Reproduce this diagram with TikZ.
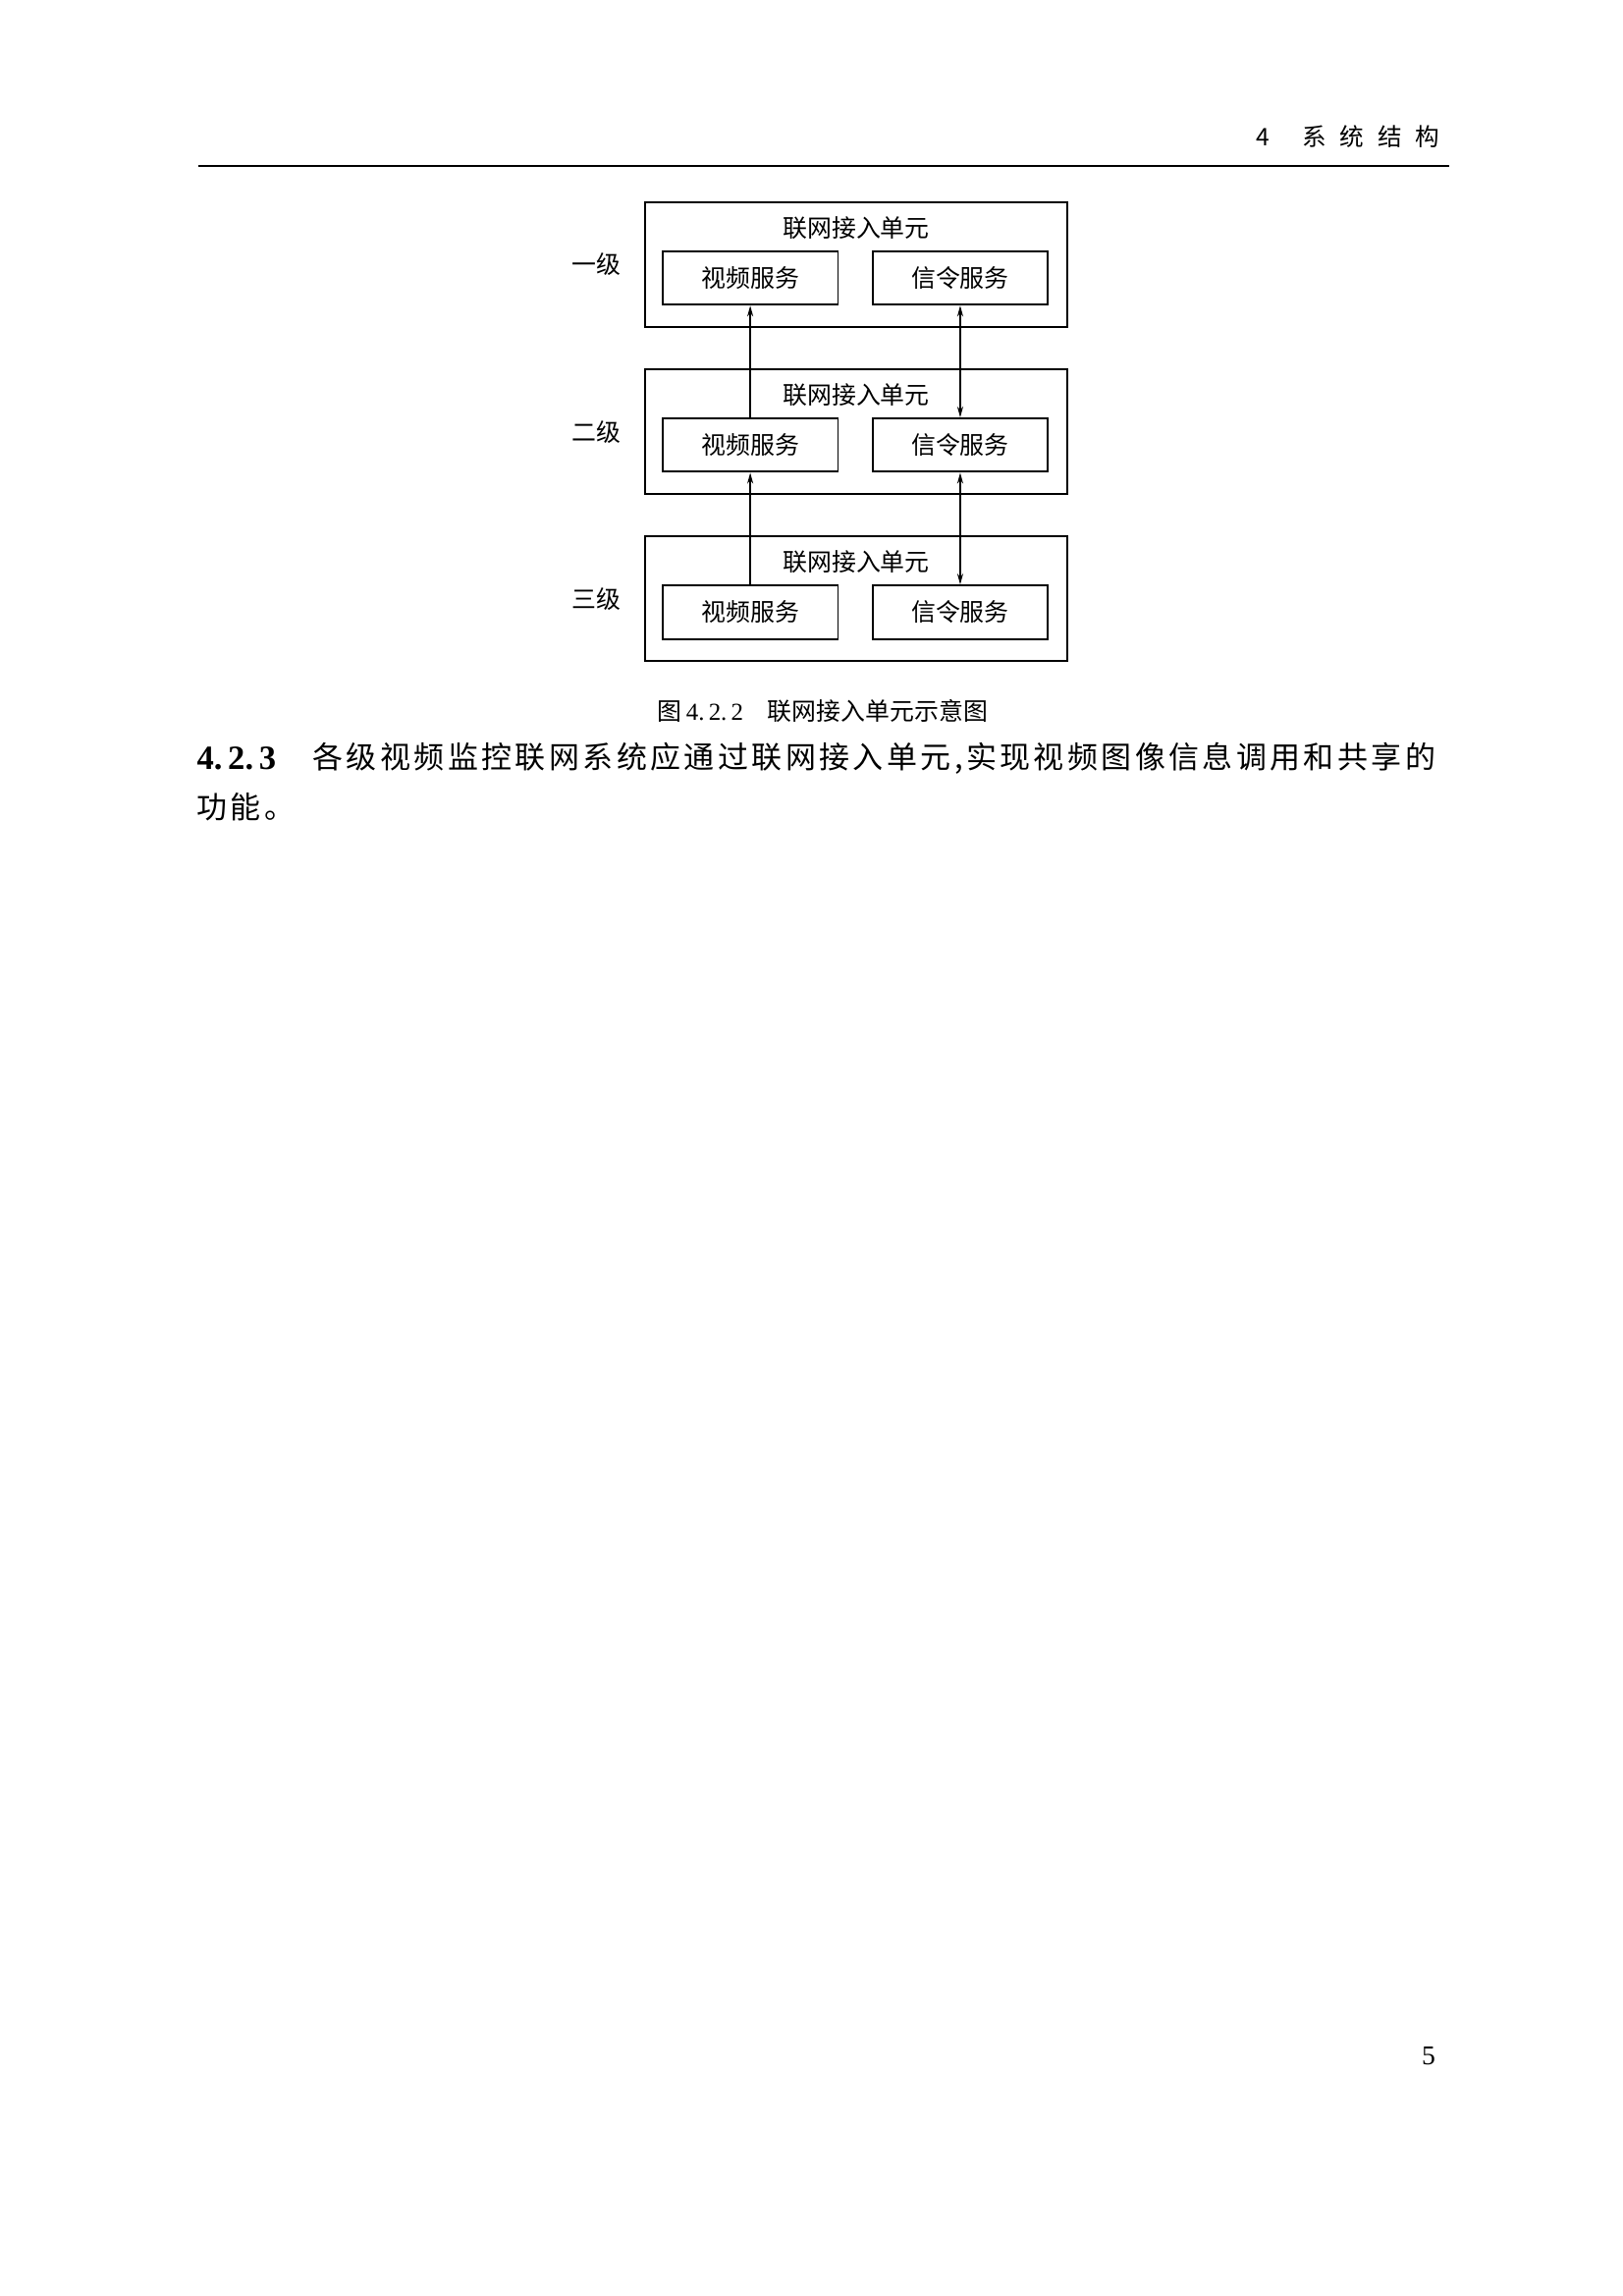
\documentclass[tikz,border=0pt]{standalone}
\usepackage{fontspec}
\setmainfont{Liberation Serif}
\newfontfamily\cjk{Noto Sans CJK SC}
\newfontfamily\cjkbody[LetterSpace=11]{Noto Sans CJK SC}
\usepackage{tikz}
\usetikzlibrary{arrows.meta, positioning}

\begin{document}
\begin{tikzpicture}[
    x=0.36146pt, y=-0.36146pt,
    unit/.style={draw, line width=0.7pt, inner sep=0pt, minimum width=155.3pt, minimum height=45.9pt},
    service/.style={draw, line width=0.7pt, inner sep=0pt, minimum width=64.6pt, minimum height=19.7pt, font=\cjk\fontsize{9}{11}\selectfont},
    title/.style={inner sep=0pt, font=\cjk\fontsize{9}{11}\selectfont},
    level/.style={inner sep=0pt, font=\cjk\fontsize{9}{11}\selectfont},
    arrow/.style={-{Stealth[length=4pt, width=2.2pt]}, line width=0.5pt},
    biarrow/.style={{Stealth[length=4pt, width=2.2pt]}-{Stealth[length=4pt, width=2.2pt]}, line width=0.5pt}
]
\useasboundingbox (0,0) rectangle (1653,2338);

% Page head
\node[anchor=east, inner sep=0pt, font=\cjk\fontsize{8.9}{10}\selectfont] (header) at (1467,139) {4\hspace{12pt}系\hspace{5pt}统\hspace{5pt}结\hspace{5pt}构};
\draw[line width=0.8pt] (202,169) -- (1476,169);

% Nodes
\node[unit] (unit1) at (872,269.5) {};
\node[unit] (unit2) [below=14.9pt of unit1] {};
\node[unit] (unit3) [below=14.9pt of unit2] {};

\node[title] (title1) at ([yshift=13.6pt]unit1.center) {联网接入单元};
\node[title] (title2) at ([yshift=13.6pt]unit2.center) {联网接入单元};
\node[title] (title3) at ([yshift=13.6pt]unit3.center) {联网接入单元};

\node[service] (video1) at ([xshift=-39pt, yshift=-4.9pt]unit1.center) {视频服务};
\node[service] (signal1) at ([xshift=38.3pt, yshift=-4.9pt]unit1.center) {信令服务};
\node[service] (video2) at ([xshift=-39pt, yshift=-4.9pt]unit2.center) {视频服务};
\node[service] (signal2) at ([xshift=38.3pt, yshift=-4.9pt]unit2.center) {信令服务};
\node[service] (video3) at ([xshift=-39pt, yshift=-4.9pt]unit3.center) {视频服务};
\node[service] (signal3) at ([xshift=38.3pt, yshift=-4.9pt]unit3.center) {信令服务};

\node[level] (level1) [left=8.4pt of unit1] {一级};
\node[level] (level2) [left=8.4pt of unit2] {二级};
\node[level] (level3) [left=8.4pt of unit3] {三级};

% Edges
\draw[arrow] (video2) -- (video1);
\draw[arrow] (video3) -- (video2);
\draw[biarrow] (signal1) -- (signal2);
\draw[biarrow] (signal2) -- (signal3);

% Caption and text
\node[inner sep=0pt, font=\fontsize{9}{11}\selectfont] (caption) at (838,724) {{\cjk 图}\,4.\,2.\,2\hspace{9pt}{\cjk 联网接入单元示意图}};
\node[anchor=west, inner sep=0pt, font=\bfseries\fontsize{12.5}{15}\selectfont] (secnum) at (200,772) {4.\,2.\,3};
\node[anchor=west, inner sep=0pt, font=\cjkbody\fontsize{11.2}{14}\selectfont] (para1) at (318,772) {各级视频监控联网系统应通过联网接入单元,实现视频图像信息调用和共享的};
\node[anchor=west, inner sep=0pt, font=\cjkbody\fontsize{11.2}{14}\selectfont] (para2) at (200,822) {功能。};

\node[inner sep=0pt, font=\fontsize{10}{12}\selectfont] (pagenum) at (1455,2094) {5};
\end{tikzpicture}
\end{document}
